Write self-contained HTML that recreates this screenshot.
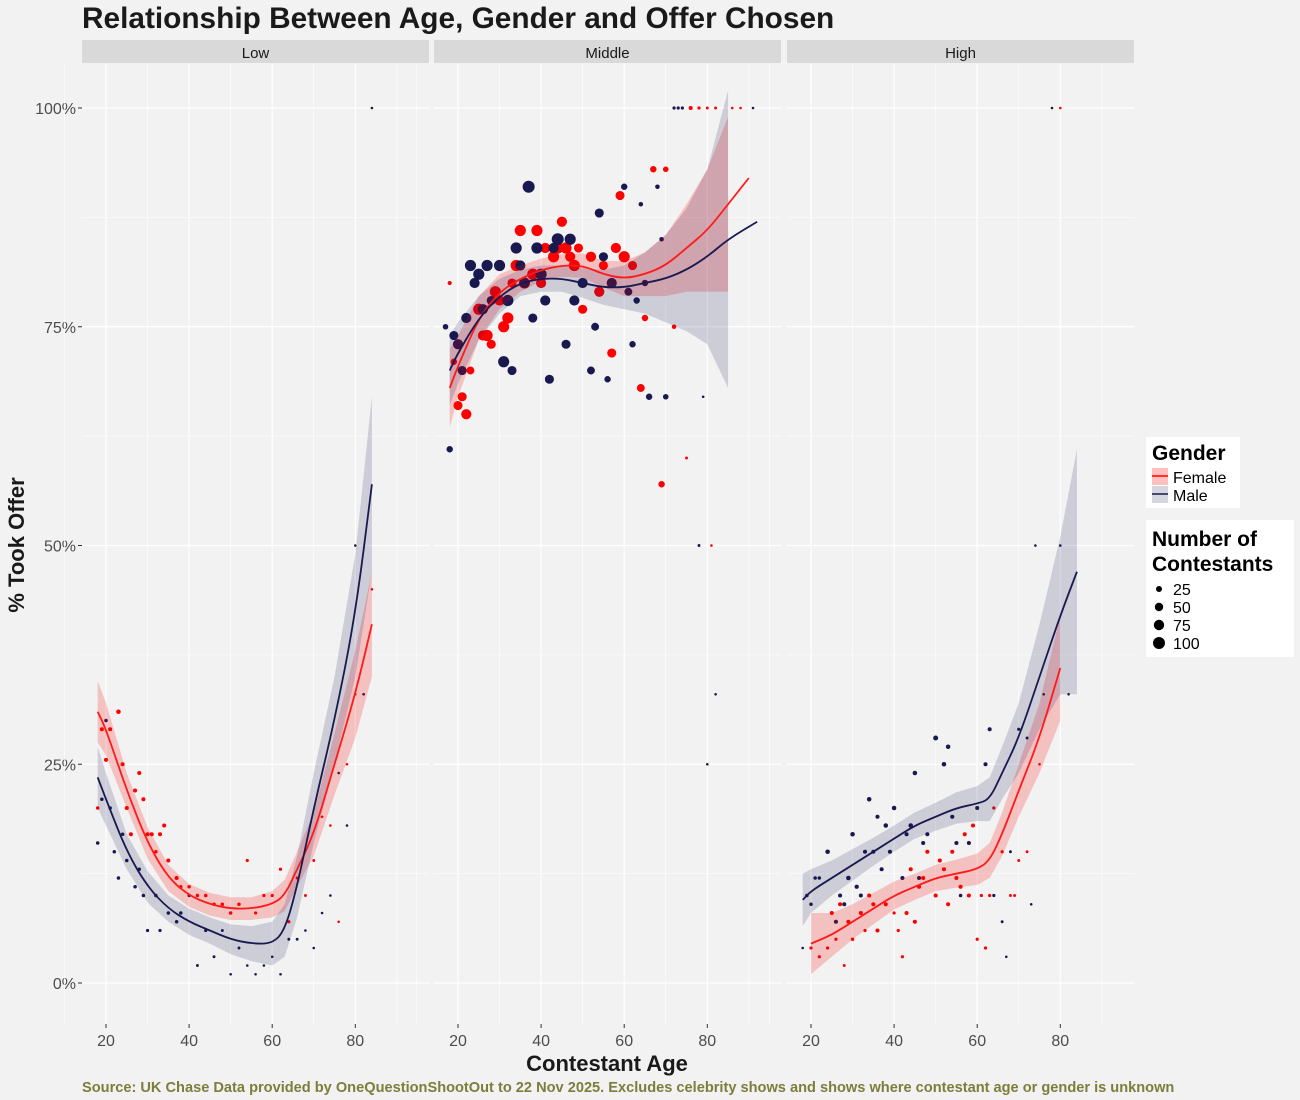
<!DOCTYPE html>
<html><head><meta charset="utf-8"><style>
body{margin:0;background:#f2f2f2;font-family:"Liberation Sans",sans-serif}
svg{display:block}
</style></head><body>
<svg id="chart" width="1300" height="1100" xmlns="http://www.w3.org/2000/svg">
<rect width="1300" height="1100" fill="#f2f2f2"/>
<text x="82" y="28" font-size="29.8" font-weight="bold" fill="#1a1a1a">Relationship Between Age, Gender and Offer Chosen</text>
<text transform="translate(24,545) rotate(-90)" text-anchor="middle" font-size="22" font-weight="bold" fill="#1a1a1a">% Took Offer</text>
<text x="607" y="1071" text-anchor="middle" font-size="22" font-weight="bold" fill="#1a1a1a">Contestant Age</text>
<text x="82" y="1092" font-size="14.6" font-weight="bold" fill="#7d7d3c">Source: UK Chase Data provided by OneQuestionShootOut to 22 Nov 2025. Excludes celebrity shows and shows where contestant age or gender is unknown</text>
<g id="panels"></g>
<g>
<rect x="1146" y="437" width="94" height="71" fill="#fff"/>
<text x="1152" y="460" font-size="21" font-weight="bold" fill="#000">Gender</text>
<rect x="1152" y="468" width="16" height="17" fill="rgba(255,0,0,0.25)"/><line x1="1152" y1="476" x2="1168" y2="476" stroke="#f00" stroke-width="1.5"/>
<text x="1173" y="483" font-size="16">Female</text>
<rect x="1152" y="486" width="16" height="17" fill="rgba(25,25,90,0.18)"/><line x1="1152" y1="494" x2="1168" y2="494" stroke="#191950" stroke-width="1.5"/>
<text x="1173" y="501" font-size="16">Male</text>
</g>
<g>
<rect x="1146" y="520" width="148" height="137" fill="#fff"/>
<text x="1152" y="546" font-size="21" font-weight="bold">Number of</text>
<text x="1152" y="571" font-size="21" font-weight="bold">Contestants</text>
<circle cx="1159" cy="589" r="3"/><text x="1173" y="595" font-size="16">25</text>
<circle cx="1159" cy="607" r="4.2"/><text x="1173" y="613" font-size="16">50</text>
<circle cx="1159" cy="625" r="5.2"/><text x="1173" y="631" font-size="16">75</text>
<circle cx="1159" cy="643" r="6"/><text x="1173" y="649" font-size="16">100</text>
</g>
</svg>
<script>
const panelNames=["Low","Middle","High"];
const panelX0=[82,434,787];
const xTicks=[20,40,60,80];
const yTicks=[0,25,50,75,100];
const yTickLabels=["0%","25%","50%","75%","100%"];
// points: [age, pct, n]
const lowFemale=[[18,20,6],[19,29,8],[20,25.5,8],[21,29,8],[23,31,10],[24,25,8],[25,20,8],[26,17,8],[27,22,8],[28,24,8],[29,21,8],[30,17,8],[31,17,8],[32,15,6],[33,17,8],[34,18,8],[35,14,8],[37,12,8],[38,11,6],[40,11,6],[42,10,6],[44,10,6],[46,9,6],[48,9,6],[50,8,6],[52,9,6],[54,14,5],[56,8,5],[58,10,5],[60,10,5],[62,13,5],[64,7,5],[66,12,4],[68,10,4],[70,14,4],[72,19,3],[74,18,3],[76,7,2],[78,25,2],[80,33,2],[82,33,2],[84,45,2]];
const lowMale=[[18,16,6],[19,21,6],[20,30,6],[21,20,6],[22,15,6],[23,12,6],[24,17,6],[25,14,6],[27,11,6],[28,13,6],[29,10,6],[30,6,5],[32,10,6],[33,6,5],[35,8,6],[37,7,6],[38,8,6],[40,10,5],[42,2,4],[44,6,5],[46,3,4],[48,6,4],[50,1,3],[52,4,4],[54,2,3],[56,1,3],[58,2,3],[60,3,3],[62,1,3],[64,5,4],[66,5,4],[68,6,3],[70,4,3],[72,8,3],[74,10,2],[76,24,2],[78,18,3],[80,50,2],[82,33,2],[84,100,2]];
const midFemale=[[18,80,8],[19,71,20],[20,66,40],[21,67,40],[22,65,50],[23,70,30],[25,77,60],[26,74,50],[27,74,60],[28,73,40],[29,79,60],[30,78,50],[31,75,60],[32,76,60],[33,80,40],[34,82,60],[35,86,60],[36,80,60],[38,81,60],[39,86,60],[40,80,50],[41,84,50],[43,83,60],[44,84,60],[45,87,50],[46,84,60],[47,83,50],[48,82,60],[49,84,40],[50,77,40],[52,83,50],[54,79,50],[55,82,40],[57,72,40],[58,84,50],[59,90,40],[60,83,60],[62,82,40],[64,68,30],[65,76,20],[67,93,20],[69,57,20],[70,93,15],[72,75,10],[75,60,4],[76,100,8],[78,100,5],[80,100,4],[82,100,4],[81,50,2],[86,100,3],[88,100,3]];
const midMale=[[17,75,15],[18,61,20],[19,74,40],[20,73,50],[21,70,40],[22,76,50],[23,82,60],[24,80,50],[25,81,60],[26,77,50],[27,82,60],[28,78,40],[30,82,60],[31,71,60],[32,78,60],[33,70,40],[34,84,60],[35,82,50],[36,80,50],[37,91,70],[38,76,40],[39,84,60],[40,81,60],[41,78,50],[42,69,40],[43,84,50],[44,85,70],[46,73,40],[47,85,60],[48,78,50],[50,80,50],[52,70,30],[53,75,30],[54,88,40],[55,83,40],[56,69,20],[57,80,50],[60,91,20],[61,79,30],[62,73,20],[63,78,20],[64,89,10],[65,80,20],[66,67,20],[68,91,10],[69,85,10],[70,67,15],[72,100,5],[73,100,5],[74,100,5],[78,50,4],[79,67,3],[80,25,3],[82,33,3],[91,100,2]];
const highFemale=[[20,4,5],[22,3,5],[24,4,5],[25,8,8],[26,5,5],[27,9,8],[28,2,4],[29,7,8],[30,5,6],[31,11,8],[32,8,8],[33,6,5],[34,10,8],[35,9,8],[36,6,8],[38,9,8],[40,8,5],[41,6,5],[42,3,5],[43,8,8],[44,13,8],[45,7,8],[46,11,8],[47,12,8],[48,15,8],[50,10,8],[51,14,8],[52,13,8],[53,9,8],[54,15,8],[55,12,8],[56,11,8],[57,17,8],[58,10,8],[59,18,8],[60,5,5],[61,10,5],[62,4,5],[63,10,5],[64,20,5],[66,15,5],[68,10,4],[69,10,4],[70,14,4],[72,15,4],[75,25,3],[80,100,2]];
const highMale=[[18,4,3],[19,10,6],[20,9,6],[21,12,6],[22,12,6],[24,15,10],[26,7,8],[27,10,8],[28,9,8],[29,12,10],[30,17,10],[31,11,8],[32,10,8],[33,15,8],[34,21,10],[35,15,8],[36,19,8],[37,13,8],[38,18,10],[39,15,8],[40,20,10],[42,12,8],[43,17,8],[44,18,10],[45,24,10],[46,12,8],[47,16,8],[48,17,8],[50,28,12],[52,25,10],[53,27,10],[54,19,8],[55,16,8],[56,10,6],[58,16,8],[60,20,8],[62,25,8],[63,29,8],[64,10,5],[66,7,4],[67,3,3],[68,15,4],[70,29,5],[72,28,4],[73,9,3],[74,50,3],[76,33,3],[78,100,2],[80,50,3],[82,33,2]];
// smooth fits: [age, fit, halfwidth]
const lowFemaleFit=[[18,31,3.5],[20,29,3],[25,22,2],[30,16,1.8],[35,12,1.5],[40,10,1.3],[45,9,1.3],[50,8.5,1.3],[55,8.5,1.3],[60,9,1.5],[63,10,1.8],[66,13,2],[70,17,2.5],[75,25,3.5],[80,33,5],[84,41,6]];
const lowMaleFit=[[18,23.5,3.5],[20,21,3],[25,15,2],[30,11,1.8],[35,8.5,1.5],[40,7,1.5],[45,6,1.5],[50,5,1.7],[55,4.5,2],[60,4.5,2.5],[63,6,3],[66,11,3.5],[70,20,4],[75,30,5],[80,42,7],[84,57,10]];
const midFemaleFit=[[18,68,4.5],[20,70.5,3.5],[25,76,2.5],[30,79,2],[35,80.5,1.5],[40,81.5,1.3],[45,82,1.3],[50,82,1.4],[55,81,1.5],[60,80.5,2],[65,81,2.5],[70,82,3.5],[75,84,5],[80,86,7],[85,89,10],[90,92,0]];
const midMaleFit=[[18,70,4],[20,72,3.5],[25,76,2.5],[30,78.5,2],[35,80,1.5],[40,80.5,1.5],[45,80.5,1.5],[50,80,1.7],[55,79.5,2],[60,79.5,2.5],[65,80,3.5],[70,80.5,5],[75,81.5,7],[80,83,10],[85,85,17],[92,87,0]];
const highFemaleFit=[[20,4.5,3.5],[25,5.5,2.5],[30,7,2],[35,8.5,1.8],[40,10,1.6],[45,11,1.5],[50,12,1.5],[55,12.5,1.6],[60,13,1.8],[63,14,2],[66,17,2.5],[70,22,3],[75,28,4],[80,36,6]];
const highMaleFit=[[18,9.5,3],[20,10.5,2.5],[25,12,2],[30,13.5,1.8],[35,15,1.6],[40,16.5,1.5],[45,18,1.5],[50,19,1.6],[55,20,1.8],[60,20.5,2],[63,21,2.5],[66,24,3],[70,28,4],[75,35,6],[80,42,9],[84,47,14]];
const panelData=[[lowFemale,lowMale,lowFemaleFit,lowMaleFit],[midFemale,midMale,midFemaleFit,midMaleFit],[highFemale,highMale,highFemaleFit,highMaleFit]];

const NS="http://www.w3.org/2000/svg";
const PW=347, PY0=64, PY1=1024;
const yS=v=>983-v*8.75;
function mk(tag,attrs,parent){const e=document.createElementNS(NS,tag);for(const k in attrs)e.setAttribute(k,attrs[k]);parent.appendChild(e);return e;}
const root=document.getElementById('panels');
yTicks.forEach((t,i)=>{
  const tx=mk('text',{x:76,y:yS(t)+6,'text-anchor':'end','font-size':16,fill:'#4d4d4d'},root);
  
  
  tx.textContent=yTickLabels[i];
  mk('line',{x1:78,x2:82,y1:yS(t),y2:yS(t),stroke:'#333'},root);
});
panelNames.forEach((name,pi)=>{
  const x0=panelX0[pi];
  const xS=a=>x0+24+(a-20)*4.155;
  const g=mk('g',{},root);
  
  
  const strip=mk('rect',{x:x0,y:40,width:PW,height:23,fill:'#d9d9d9'},g);
  
  
  const st=mk('text',{x:x0+PW/2,y:58,'text-anchor':'middle','font-size':15,fill:'#1a1a1a'},g);
  st.textContent=name;
  for(let v=12.5;v<100;v+=25)mk('line',{x1:x0,x2:x0+PW,y1:yS(v),y2:yS(v),stroke:'#fff','stroke-width':0.6},g);
  for(let a=10;a<=90;a+=20)mk('line',{x1:xS(a),x2:xS(a),y1:PY0,y2:PY1,stroke:'#fff','stroke-width':0.6},g);
  yTicks.forEach(t=>mk('line',{x1:x0,x2:x0+PW,y1:yS(t),y2:yS(t),stroke:'#fff','stroke-width':1.2},g));
  xTicks.forEach(a=>{
    mk('line',{x1:xS(a),x2:xS(a),y1:PY0,y2:PY1,stroke:'#fff','stroke-width':1.2},g);
    mk('line',{x1:xS(a),x2:xS(a),y1:PY1,y2:PY1+4,stroke:'#333'},g);
    const tl=mk('text',{x:xS(a),y:1046,'text-anchor':'middle','font-size':16,fill:'#4d4d4d'},g);
    
    
    tl.textContent=a;
  });
  const [pf,pm,ff,fm]=panelData[pi];
  const cols=['#ff0000','#191950'];
  [pf,pm].forEach((pts,si)=>{
    pts.forEach(p=>{
      const c=mk('circle',{cx:xS(p[0]),cy:yS(p[1]),r:Math.max(1.3,Math.sqrt(p[2])*0.72),fill:cols[si]},g);
      
      
    });
  });
  const bandCols=['rgba(255,0,0,0.2)','rgba(25,25,90,0.17)'];
  [ff,fm].forEach((fit,si)=>{
    const bf=fit.filter(f=>f[2]>0);
    const upb=bf.map(f=>xS(f[0])+','+yS(f[1]+f[2]));
    const lob=bf.slice().reverse().map(f=>xS(f[0])+','+yS(f[1]-f[2]));
    const band=mk('polygon',{points:upb.concat(lob).join(' '),fill:bandCols[si]},g);
    
    
  });
  [ff,fm].forEach((fit,si)=>{
    let d='';
    for(let i=0;i<fit.length;i++){
      const x=xS(fit[i][0]),y=yS(fit[i][1]);
      if(i===0)d='M'+x+','+y;
      else{const px=xS(fit[i-1][0]),py=yS(fit[i-1][1]);const mx=(px+x)/2;d+=` Q${px},${py} ${mx},${(py+y)/2}`;if(i===fit.length-1)d+=` L${x},${y}`;}
    }
    const ln=mk('path',{d:d,fill:'none',stroke:si?'#191950':'#ff1a1a','stroke-width':1.8},g);
    
    
  });
});
</script>
</body></html>
